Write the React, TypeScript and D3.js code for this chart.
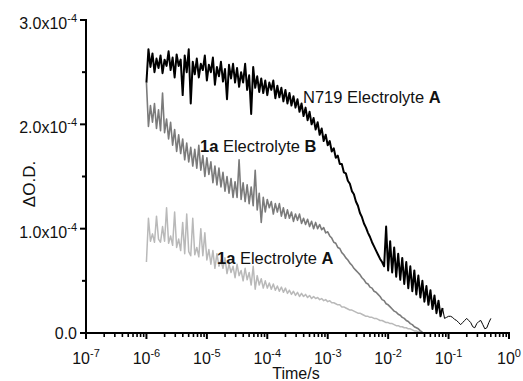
import React from "react";
import * as d3 from "d3";

// ---- axis data ----
const X_TICK_EXPONENTS = [-7, -6, -5, -4, -3, -2, -1, 0];
const Y_TICK_VALUES = [0, 1, 2, 3]; // in units of 1e-4
const Y_TICK_MANTISSAS = ["0.0", "1.0x10", "2.0x10", "3.0x10"];
const Y_TICK_POWERS = ["", "-4", "-4", "-4"];
const Y_MINOR_VALUES = [0.5, 1.5, 2.5];

// sampling grid of the traces: time = 10^(GRID_START_EXP + i / STEPS_PER_DECADE)
const GRID_START_EXP = -6;
const STEPS_PER_DECADE = 30;
// index where the N719 trace turns into a sparse, thin tail
const N719_TAIL_START = 147;

// ---- series values (ΔO.D. in units of 1e-4) ----
const N719_ELECTROLYTE_A = [
  2.40, 2.72, 2.55, 2.68, 2.50, 2.63, 2.54, 2.66, 2.49, 2.62,
  2.56, 2.70, 2.52, 2.64, 2.45, 2.67, 2.56, 2.62, 2.28, 2.66,
  2.50, 2.72, 2.20, 2.60, 2.48, 2.63, 2.45, 2.58, 2.52, 2.66,
  2.42, 2.57, 2.50, 2.64, 2.38, 2.55, 2.46, 2.60, 2.41, 2.53,
  2.24, 2.57, 2.44, 2.58, 2.40, 2.54, 2.36, 2.50, 2.40, 2.58,
  2.33, 2.47, 2.10, 2.55, 2.35, 2.46, 2.31, 2.44, 2.30, 2.42,
  2.28, 2.40, 2.33, 2.42, 2.25, 2.37, 2.26, 2.35, 2.22, 2.33,
  2.20, 2.30, 2.18, 2.27, 2.16, 2.24, 2.12, 2.20, 2.08, 2.16,
  2.04, 2.12, 2.00, 2.06, 1.95, 2.02, 1.90, 1.96, 1.84, 1.90,
  1.80, 1.84, 1.74, 1.77, 1.68, 1.70, 1.62, 1.62, 1.54, 1.53,
  1.46, 1.43, 1.36, 1.33, 1.26, 1.22, 1.15, 1.11, 1.05, 1.01,
  0.96, 0.92, 0.87, 0.83, 0.79, 0.75, 0.71, 0.68, 0.64, 1.02,
  0.60, 0.88, 0.58, 0.82, 0.54, 0.76, 0.51, 0.72, 0.47, 0.68,
  0.43, 0.64, 0.40, 0.60, 0.37, 0.55, 0.34, 0.50, 0.30, 0.45,
  0.27, 0.41, 0.23, 0.36, 0.19, 0.31, 0.16, 0.24, 0.14, 0.15,
  0.16, 0.16, 0.15, 0.13, 0.12, 0.10, 0.08, 0.10, 0.12, 0.14,
  0.12, 0.10, 0.06, 0.05, 0.09, 0.11, 0.12, 0.08, 0.04, 0.05,
  0.10, 0.14,
];

const DYE_1A_ELECTROLYTE_B = [
  2.40, 1.98, 2.18, 2.02, 2.20, 1.96, 2.14, 1.94, 2.30, 1.92,
  2.05, 1.86, 2.02, 1.80, 1.95, 1.74, 1.90, 1.72, 1.86, 1.66,
  1.82, 1.64, 1.78, 1.60, 1.76, 1.58, 1.80, 1.56, 1.70, 1.50,
  1.68, 1.52, 1.64, 1.44, 1.60, 1.42, 1.58, 1.40, 1.54, 1.36,
  1.50, 1.34, 1.48, 1.30, 1.45, 1.30, 1.66, 1.28, 1.44, 1.26,
  1.42, 1.24, 1.40, 1.22, 1.56, 1.18, 1.34, 1.06, 1.30, 1.16,
  1.28, 1.20, 1.26, 1.14, 1.24, 1.16, 1.24, 1.12, 1.20, 1.10,
  1.18, 1.10, 1.16, 1.07, 1.14, 1.08, 1.14, 1.05, 1.10, 1.04,
  1.09, 1.02, 1.07, 1.00, 1.06, 1.00, 1.04, 0.99, 1.01, 0.96,
  0.97, 0.93, 0.91, 0.87, 0.86, 0.82, 0.81, 0.77, 0.75, 0.72,
  0.70, 0.67, 0.65, 0.62, 0.60, 0.58, 0.56, 0.53, 0.51, 0.48,
  0.47, 0.44, 0.43, 0.40, 0.39, 0.37, 0.35, 0.32, 0.31, 0.28,
  0.27, 0.25, 0.23, 0.21, 0.20, 0.18, 0.17, 0.15, 0.14, 0.12,
  0.11, 0.09, 0.08, 0.06, 0.05, 0.04, 0.02, 0.01,
];

const DYE_1A_ELECTROLYTE_A = [
  0.68, 1.10, 0.88, 0.95, 0.87, 1.12, 0.90, 0.87, 1.02, 0.88,
  1.20, 0.86, 0.93, 0.84, 1.16, 0.82, 0.90, 0.79, 1.06, 0.76,
  1.14, 0.78, 0.74, 1.10, 0.75, 0.82, 0.73, 1.00, 0.74, 0.96,
  0.70, 0.80, 0.66, 0.79, 0.62, 0.76, 0.64, 0.70, 0.62, 0.72,
  0.57, 0.66, 0.58, 0.64, 0.53, 0.66, 0.55, 0.60, 0.50, 0.62,
  0.51, 0.58, 0.46, 0.64, 0.42, 0.55, 0.46, 0.52, 0.43, 0.50,
  0.43, 0.48, 0.42, 0.47, 0.41, 0.45, 0.40, 0.44, 0.39, 0.43,
  0.38, 0.41, 0.37, 0.40, 0.36, 0.39, 0.35, 0.38, 0.35, 0.37,
  0.34, 0.36, 0.33, 0.35, 0.33, 0.34, 0.32, 0.33, 0.31, 0.32,
  0.30, 0.31, 0.29, 0.29, 0.28, 0.27, 0.27, 0.25, 0.25, 0.24,
  0.23, 0.22, 0.22, 0.21, 0.20, 0.19, 0.19, 0.18, 0.17, 0.16,
  0.16, 0.15, 0.15, 0.14, 0.14, 0.13, 0.12, 0.12, 0.11, 0.10,
  0.10, 0.09, 0.09, 0.08, 0.07, 0.07, 0.06, 0.06, 0.05, 0.05,
  0.04, 0.04, 0.03, 0.02, 0.02, 0.01, 0.01,
];

const W = 523;
const H = 381;
const FONT = "'Liberation Sans', Arial, Helvetica, sans-serif";

type Pt = { i: number; v: number };

export default function App() {
  const x = d3.scaleLog().domain([1e-7, 1]).range([86, 509]);
  const y = d3.scaleLinear().domain([0, 3]).range([333, 20]);

  const timeAt = (i: number) => Math.pow(10, GRID_START_EXP + i / STEPS_PER_DECADE);
  const line = d3
    .line<Pt>()
    .x((p) => x(timeAt(p.i)))
    .y((p) => y(p.v));
  const pts = (arr: number[]) => arr.map((v, i) => ({ i, v }));

  const minorX: number[] = [];
  for (let e = -7; e < 0; e++) {
    for (let m = 2; m <= 9; m++) minorX.push(m * Math.pow(10, e));
  }

  const n719 = pts(N719_ELECTROLYTE_A);
  const paths = [
    { data: pts(DYE_1A_ELECTROLYTE_A), color: "#b9b9b9", width: 1.5 },
    { data: pts(DYE_1A_ELECTROLYTE_B), color: "#7b7b7b", width: 1.6 },
    { data: n719.slice(0, N719_TAIL_START + 1), color: "#000000", width: 2 },
    { data: n719.slice(N719_TAIL_START), color: "#000000", width: 1 },
  ];

  return (
    <svg
      width={W}
      height={H}
      style={{ position: "absolute", left: 0, top: 0, background: "#fff" }}
      fontFamily={FONT}
    >
      <rect x={0} y={0} width={W} height={H} fill="#fff" />
      {paths.map((s, k) => (
        <path
          key={k}
          d={line(s.data) || ""}
          fill="none"
          stroke={s.color}
          strokeWidth={s.width}
          strokeLinejoin="round"
        />
      ))}

      {/* axes */}
      <line x1={86} x2={86} y1={y(3) - 1} y2={y(0) + 1} stroke="#000" strokeWidth={2} />
      <line x1={85} x2={x(1) + 1} y1={y(0)} y2={y(0)} stroke="#000" strokeWidth={2} />

      {Y_TICK_VALUES.map((v, k) => (
        <g key={"yt" + k}>
          <line x1={80} x2={86} y1={y(v)} y2={y(v)} stroke="#000" strokeWidth={2} />
          {Y_TICK_POWERS[k] ? (
            <text x={77} y={y(v) + 9} textAnchor="end" fontSize={16} fill="#111">
              {Y_TICK_MANTISSAS[k]}
              <tspan dy={-7} fontSize={11}>
                {Y_TICK_POWERS[k]}
              </tspan>
            </text>
          ) : (
            <text x={77} y={y(v) + 6} textAnchor="end" fontSize={16} fill="#111">
              {Y_TICK_MANTISSAS[k]}
            </text>
          )}
        </g>
      ))}
      {Y_MINOR_VALUES.map((v, k) => (
        <line key={"ym" + k} x1={82} x2={86} y1={y(v)} y2={y(v)} stroke="#000" strokeWidth={2} />
      ))}

      {X_TICK_EXPONENTS.map((e) => {
        const px = x(Math.pow(10, e));
        return (
          <g key={"xt" + e}>
            <line x1={px} x2={px} y1={333} y2={339} stroke="#000" strokeWidth={2} />
            <text x={px} y={364} textAnchor="middle" fontSize={16} fill="#111">
              10
              <tspan dy={-7} fontSize={11}>
                {String(e)}
              </tspan>
            </text>
          </g>
        );
      })}
      {minorX.map((t, k) => (
        <line key={"xm" + k} x1={x(t)} x2={x(t)} y1={333} y2={337} stroke="#000" strokeWidth={1.6} />
      ))}

      <text x={296} y={379} textAnchor="middle" fontSize={16} fill="#111">
        Time/s
      </text>
      <text
        transform={`translate(35,184) rotate(-90)`}
        textAnchor="middle"
        fontSize={17}
        fill="#111"
      >
        ΔO.D.
      </text>

      {/* series labels */}
      <text x={303} y={103} fontSize={16.5} fill="#111">
        N719 Electrolyte <tspan fontWeight="bold">A</tspan>
      </text>
      <text x={200} y={152} fontSize={16.5} fill="#111">
        <tspan fontWeight="bold">1a</tspan> Electrolyte <tspan fontWeight="bold">B</tspan>
      </text>
      <text x={217} y={264} fontSize={16.5} fill="#111">
        <tspan fontWeight="bold">1a</tspan> Electrolyte <tspan fontWeight="bold">A</tspan>
      </text>
    </svg>
  );
}
